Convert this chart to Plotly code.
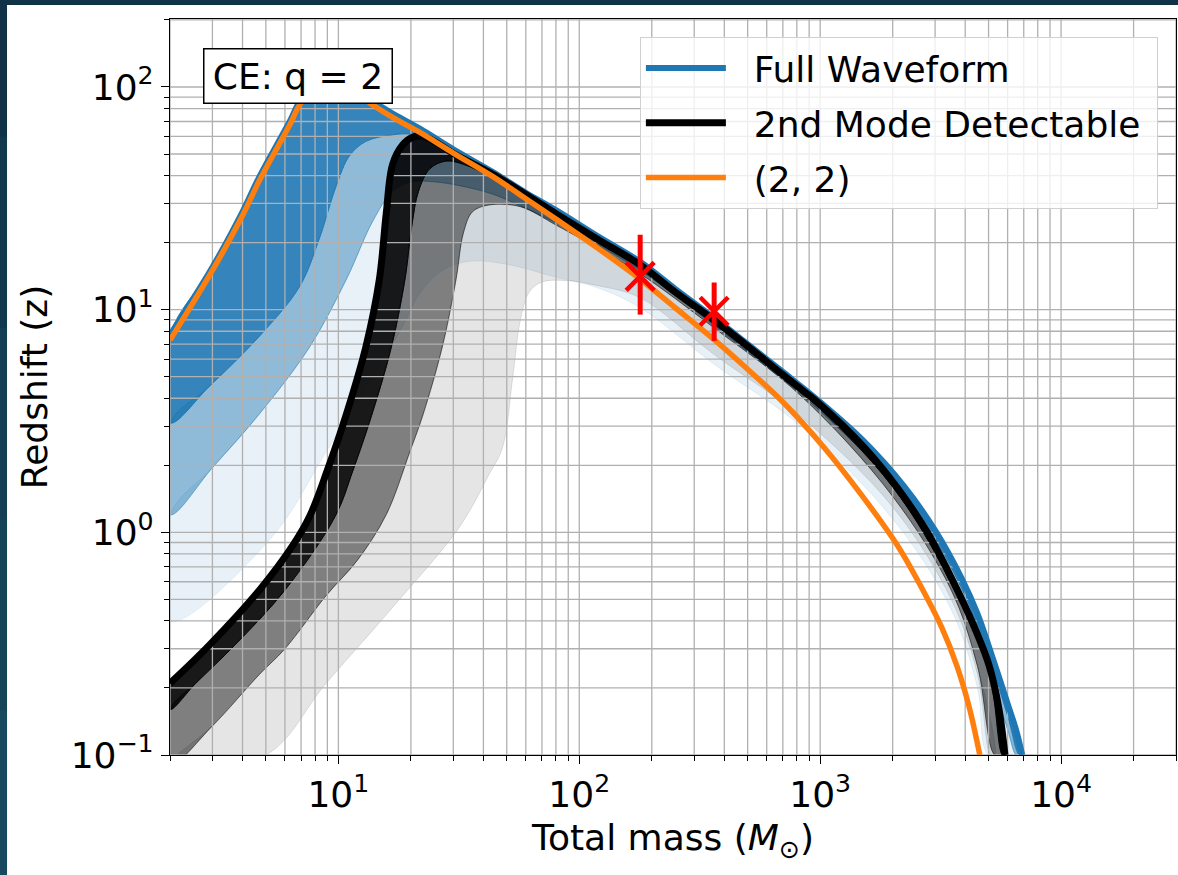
import numpy as np
import plotly.graph_objects as go

# ---------------- data ----------------
# (2, 2) horizon
ORANGE_M = [2, 3, 4, 4.7, 5.5, 6.3, 6.9, 7.5, 8.5, 10, 11.5, 12.5, 13.9, 16.8, 21.8, 30, 43.8,
            60, 80, 120, 179, 250, 362, 500, 700, 1040, 1500, 2113, 2600, 3192, 3700, 4150, 4600]
ORANGE_Z = [7.3, 15, 26.5, 38, 52, 68, 83, 92, 95, 95, 93, 90, 83, 73, 62.5, 50.5, 39.6,
            31.5, 25.5, 18.8, 13.7, 10.2, 7.35, 5.4, 3.85, 2.4, 1.45, 0.86, 0.58, 0.375, 0.25, 0.165, 0.1]

# Full waveform horizon and percentile edges
BLUE_M = [2, 3, 4, 4.7, 5.5, 6.3, 6.9, 7.5, 8.5, 10, 11.5, 12.5, 13.9, 16.8, 21.8, 30, 43.8, 60,
          80, 120, 179, 250, 362, 500, 700, 1000, 1500, 2240, 3000, 3870, 4500, 5160, 6000, 6500, 6900]
BLUE_Z = [7.7, 15.5, 27.5, 39.5, 54, 70.5, 86, 95, 98, 98, 96, 93, 86, 76, 65, 52.5, 41.5, 33.5,
          28, 21.3, 16.4, 12.4, 9.2, 7.0, 5.25, 3.85, 2.6, 1.6, 1.02, 0.62, 0.43, 0.28, 0.17, 0.13, 0.1]

B90_M = [2, 2.9, 4.7, 6.9, 8.3, 9.8, 11.1, 13, 16.8, 19.8, 25, 30, 43.8, 80, 120, 179, 362, 1000,
         2240, 3870, 5160, 6000, 6700]
B90_Z = [3.1, 4.5, 7.6, 12.7, 20.6, 36, 49, 57, 61, 61.5, 58, 50, 39.5, 26.8, 20.6, 15.7, 8.9, 3.7,
         1.52, 0.56, 0.25, 0.15, 0.1]

B50_M = [2, 3, 4.7, 7.6, 10.8, 13.9, 16.8, 20, 25, 32, 43.8, 60, 80, 120, 179, 362, 1000, 2240,
         3870, 5160, 6000, 6500]
B50_Z = [1.2, 1.95, 3.4, 6.8, 13.7, 25, 34, 37.5, 37.5, 36, 33, 28.5, 24.5, 19.4, 15.0, 8.5, 3.5, 1.42,
         0.52, 0.22, 0.13, 0.1]

B10_M = [2, 5.2, 8.9, 13, 18, 22, 27, 35, 50, 80, 120, 179, 362, 832, 2000, 3500, 4500, 5000]
B10_Z = [0.4, 0.93, 2.3, 4.5, 8, 12, 15, 16.5, 16, 14, 12.5, 10.2, 5.7, 3.0, 1.15, 0.45, 0.2, 0.1]

# 2nd mode detectable horizon and percentile edges
BLACK_M = [2, 2.9, 4.7, 6.5, 7.6, 9, 10.8, 13, 14.8, 15.8, 16.8, 18.5, 20.3, 22.5, 25, 29.8, 43.8,
           80, 120, 179, 250, 362, 500, 700, 832, 1000, 1500, 2113, 2800, 3514, 4300, 5012, 5500, 5850]
BLACK_Z = [0.21, 0.31, 0.55, 0.88, 1.18, 1.9, 3.4, 6.8, 13.7, 27, 45, 55, 59.5, 60, 57, 50.5, 40.5,
           27, 20.6, 15.9, 12.0, 9.0, 6.85, 5.1, 4.4, 3.75, 2.45, 1.56, 0.99, 0.62, 0.39, 0.255, 0.165, 0.1]

K90_M = [2, 2.56, 3.7, 6, 9.7, 11.5, 13.8, 16.6, 18.9, 20.2, 21.5, 24, 28, 33, 43.8, 60, 80, 120,
         179, 362, 832, 2000, 3500, 5000, 5700]
K90_Z = [0.16, 0.21, 0.31, 0.55, 1.18, 1.9, 3.4, 6.8, 13.7, 24, 34, 43, 46.5, 45, 39, 31.5, 26, 20,
         15.4, 8.7, 4.3, 1.6, 0.59, 0.24, 0.1]

K50_M = [2, 3, 4.7, 6, 8.9, 12, 15.8, 19.8, 22.5, 27, 30.8, 33, 36, 42, 57, 80, 120, 179, 362, 832,
         2000, 3500, 4500, 5300]
K50_Z = [0.09, 0.135, 0.23, 0.3, 0.52, 0.75, 1.2, 2.3, 3.4, 6.8, 13.7, 22, 27.5, 29.5, 29, 24, 18.8,
         14.5, 8.3, 4.1, 1.45, 0.55, 0.25, 0.1]

K10_M = [5, 8.9, 16.8, 31.9, 42, 48, 53, 57, 62, 70, 90, 120, 179, 362, 832, 2000, 3500, 4500, 5100]
K10_Z = [0.1, 0.21, 0.46, 1.06, 1.8, 2.4, 5, 9, 12, 13.3, 13.5, 12.8, 11.3, 6.3, 3.3, 1.3, 0.5, 0.23, 0.1]

# measured events with error bars
EVENT_M = [179, 363]
EVENT_Z = [14.1, 9.84]
EVENT_UP = [7.6, 3.4]
EVENT_DN = [4.6, 2.6]

LEGEND_NAMES = ["Full Waveform", "2nd Mode Detectable", "(2, 2)"]
X_TICKS = [10, 100, 1000, 10000]
X_TICK_TEXT = ["10<sup>1</sup>", "10<sup>2</sup>", "10<sup>3</sup>", "10<sup>4</sup>"]
Y_TICKS = [0.1, 1, 10, 100]
Y_TICK_TEXT = ["10<sup>\u22121</sup>", "10<sup>0</sup>", "10<sup>1</sup>", "10<sup>2</sup>"]
X_RANGE = [2, 30000]
Y_RANGE = [0.1, 202]

FONT = "DejaVu Sans"
FS = 36
BLUE = "#1f77b4"
ORANGE = "#ff7f0e"
NB = "\u00a0"
SMOOTH = 1.0


def band(um, uz, lm, lz):
    xs = list(um) + list(lm)[::-1] + [um[0]]
    ys = list(uz) + list(lz)[::-1] + [uz[0]]
    return xs, ys


def log_minor(lo, hi):
    vals = []
    for e in range(-2, 6):
        for m in range(1, 10):
            v = m * 10.0 ** e
            if lo <= v * 1.0000001 and v <= hi * 1.0000001:
                vals.append(v)
    return vals


fig = go.Figure()

fills = [
    (BLUE_M, BLUE_Z, B90_M, B90_Z, "rgba(31,119,180,0.9)"),
    (B90_M, B90_Z, B50_M, B50_Z, "rgba(31,119,180,0.5)"),
    (B50_M, B50_Z, B10_M, B10_Z, "rgba(31,119,180,0.1)"),
    (BLACK_M, BLACK_Z, K90_M, K90_Z, "rgba(0,0,0,0.9)"),
    (K90_M, K90_Z, K50_M, K50_Z, "rgba(0,0,0,0.5)"),
    (K50_M, K50_Z, K10_M, K10_Z, "rgba(0,0,0,0.1)"),
]
for um, uz, lm, lz, col in fills:
    xs, ys = band(um, uz, lm, lz)
    fig.add_trace(go.Scatter(x=xs, y=ys, mode="lines", fill="toself", fillcolor=col,
                             line=dict(color=col, width=1, shape="spline", smoothing=SMOOTH),
                             hoverinfo="skip", showlegend=False))

# grid (drawn above the shaded bands, below the curves)
gx = log_minor(X_RANGE[0], X_RANGE[1])
gy = log_minor(Y_RANGE[0], Y_RANGE[1])
grid_x, grid_y = [], []
for v in gx:
    grid_x += [v, v, None]
    grid_y += [Y_RANGE[0] / 2, Y_RANGE[1] * 2, None]
for v in gy:
    grid_x += [X_RANGE[0] / 2, X_RANGE[1] * 2, None]
    grid_y += [v, v, None]
fig.add_trace(go.Scatter(x=grid_x, y=grid_y, mode="lines", line=dict(color="#b0b0b0", width=1.3),
                         hoverinfo="skip", showlegend=False))

curve_style = dict(shape="spline", smoothing=SMOOTH)
fig.add_trace(go.Scatter(x=BLUE_M, y=BLUE_Z, mode="lines", name=NB * 2 + LEGEND_NAMES[0],
                         line=dict(color=BLUE, width=6, **curve_style), legendgroup="a"))
fig.add_trace(go.Scatter(x=BLACK_M, y=BLACK_Z, mode="lines", name=NB * 2 + LEGEND_NAMES[1] + NB,
                         line=dict(color="black", width=7, **curve_style), legendgroup="b"))
fig.add_trace(go.Scatter(x=ORANGE_M, y=ORANGE_Z, mode="lines", name=NB * 2 + LEGEND_NAMES[2],
                         line=dict(color=ORANGE, width=5.5, **curve_style), legendgroup="c"))

fig.add_trace(go.Scatter(x=EVENT_M, y=EVENT_Z, mode="markers",
                         marker=dict(symbol="x-thin", size=28, line=dict(color="red", width=4.5)),
                         error_y=dict(type="data", symmetric=False, array=EVENT_UP, arrayminus=EVENT_DN,
                                      color="red", thickness=5, width=0),
                         showlegend=False, hoverinfo="skip"))

axis_common = dict(
    type="log", ticks="outside", ticklen=8, tickwidth=1.3, tickcolor="black",
    showline=True, linecolor="black", linewidth=1.3, mirror=True,
    showgrid=False, zeroline=False,
    tickfont=dict(family=FONT, size=FS, color="black"),
)

fig.update_xaxes(
    **axis_common,
    range=[np.log10(X_RANGE[0]), np.log10(X_RANGE[1])],
    tickmode="array", tickvals=X_TICKS, ticktext=X_TICK_TEXT,
    minor=dict(tickvals=gx, ticks="outside", ticklen=4.5, tickwidth=1.1, tickcolor="black", showgrid=False),
    title=dict(text="Total mass (<i>M</i><sub>\u2299</sub>)", font=dict(family=FONT, size=FS, color="black"),
               standoff=10),
)
fig.update_yaxes(
    **axis_common,
    range=[np.log10(Y_RANGE[0]), np.log10(Y_RANGE[1])],
    tickmode="array", tickvals=Y_TICKS, ticktext=Y_TICK_TEXT,
    minor=dict(tickvals=gy, ticks="outside", ticklen=4.5, tickwidth=1.1, tickcolor="black", showgrid=False),
    title=dict(text="Redshift (z)", font=dict(family=FONT, size=FS, color="black"), standoff=12),
)

fig.add_annotation(
    text="CE: q = 2", xref="paper", yref="paper", x=0.1277, y=0.923,
    xanchor="center", yanchor="middle", showarrow=False,
    font=dict(family=FONT, size=FS, color="black"),
    bgcolor="white", bordercolor="black", borderwidth=1.5, borderpad=3, width=181, height=47,
)

# dark frame strips around the figure (slight vertical gradient on the left strip)
STRIP_COLORS = ["#0f3247", "#11384d", "#133e53", "#154459", "#174a5f"]
n = len(STRIP_COLORS)
top_p, bot_p = 1.1, -0.2
for i, c in enumerate(STRIP_COLORS):
    y1 = top_p - (top_p - bot_p) * i / n
    y0 = top_p - (top_p - bot_p) * (i + 1) / n
    fig.add_shape(type="rect", xref="paper", yref="paper", x0=-0.2, x1=-0.162, y0=y0 - 0.002, y1=y1,
                  fillcolor=c, line=dict(width=0), layer="above")
fig.add_shape(type="rect", xref="paper", yref="paper", x0=-0.2, x1=1.1, y0=1.019, y1=1.1,
              fillcolor="#0f3247", line=dict(width=0), layer="above")

fig.update_layout(
    width=1178, height=875,
    margin=dict(l=170, r=2, t=19, b=120, autoexpand=False),
    paper_bgcolor="white", plot_bgcolor="white",
    font=dict(family=FONT, size=FS, color="black"),
    legend=dict(x=0.982, y=0.9755, xanchor="right", yanchor="top",
                bgcolor="rgba(255,255,255,0.8)", bordercolor="#d0d0d0", borderwidth=1,
                font=dict(family=FONT, size=FS, color="black"), itemwidth=80, tracegroupgap=5),
    showlegend=True,
)

fig.write_html("out.html")
